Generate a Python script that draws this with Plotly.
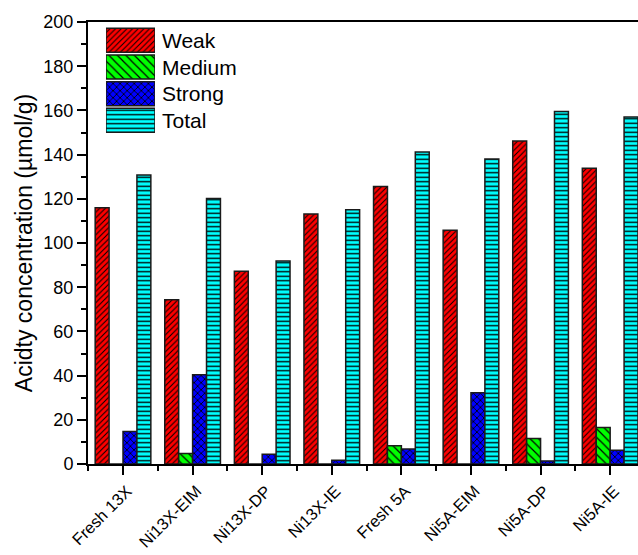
import plotly.graph_objects as go

categories = ["Fresh 13X", "Ni13X-EIM", "Ni13X-DP", "Ni13X-IE",
              "Fresh 5A", "Ni5A-EIM", "Ni5A-DP", "Ni5A-IE"]
weak = [116.0, 74.3, 87.2, 113.1, 125.6, 105.8, 146.1, 133.8]
medium = [0.0, 4.7, 0.0, 0.0, 8.3, 0.0, 11.5, 16.5]
strong = [14.7, 40.4, 4.4, 1.7, 6.8, 32.2, 1.4, 6.2]
total = [130.8, 120.1, 91.9, 115.0, 141.2, 138.0, 159.5, 157.0]

series_names = ["Weak", "Medium", "Strong", "Total"]
series_values = [weak, medium, strong, total]
colors = ["#FF0000", "#00FF00", "#0000FF", "#00FFFF"]
shapes = ["/", "\\", "x", "-"]
psizes = [4, 6, 5, 4.5]
solid = [0.25, 0.2, 0.3, 0.3]

xpos = list(range(len(categories)))

fig = go.Figure()
for name, vals, c, sh, ps, so in zip(series_names, series_values, colors, shapes, psizes, solid):
    fig.add_trace(go.Bar(
        x=xpos, y=vals, name=name, showlegend=False,
        marker=dict(color=c, line=dict(color="#1a1a1a", width=1.5),
                    pattern=dict(shape=sh, fgcolor="black", bgcolor=c,
                                 size=ps, solidity=so, fillmode="replace")),
    ))

# legend swatches drawn as bars on a small inset axis
legend_rows = [3, 2, 1, 0]
for name, row, c, sh, ps, so in zip(series_names, legend_rows, colors, shapes, psizes, solid):
    fig.add_trace(go.Bar(
        x=[1], y=[row], base=0, orientation="h", width=0.9, offset=-0.45,
        xaxis="x2", yaxis="y2", showlegend=False, hoverinfo="skip",
        marker=dict(color=c, line=dict(color="#1a1a1a", width=1.5),
                    pattern=dict(shape=sh, fgcolor="black", bgcolor=c,
                                 size=ps, solidity=so, fillmode="replace")),
    ))
    fig.add_annotation(text=name, xref="paper", yref="y2", x=0.13, y=row,
                       xanchor="left", yanchor="middle", showarrow=False,
                       font=dict(size=21, color="black"))

fig.update_layout(
    width=638, height=555,
    margin=dict(l=88, r=0, t=22, b=91),
    barmode="group", bargap=0.2, bargroupgap=0,
    plot_bgcolor="rgba(0,0,0,0)", paper_bgcolor="white",
    font=dict(family="Liberation Sans, Arial", size=18, color="black"),
    showlegend=False,
    xaxis=dict(
        range=[-0.503, 7.40], tickmode="array", tickvals=xpos, ticktext=categories,
        tickangle=-45, ticklabelstandoff=0, ticklabelshift=4,
        showline=True, linecolor="black", linewidth=2, mirror=True,
        ticks="outside", ticklen=9, tickwidth=2, tickcolor="black",
        minor=dict(tickmode="array", tickvals=[i + 0.5 for i in range(-1, 8)],
                   ticks="outside", ticklen=5, tickwidth=2, tickcolor="black"),
        showgrid=False, zeroline=False, tickfont=dict(size=16.5), automargin=False,
    ),
    yaxis=dict(
        range=[0, 200], dtick=20, tick0=0,
        showline=True, linecolor="black", linewidth=2, mirror=False,
        ticks="outside", ticklen=9, tickwidth=2, tickcolor="black",
        minor=dict(dtick=10, ticks="outside", ticklen=5, tickwidth=2, tickcolor="black"),
        showgrid=False, zeroline=False, tickfont=dict(size=18), automargin=False,
        title=dict(text="Acidty concentration (\u00b5mol/g)", font=dict(size=23), standoff=4),
    ),
    xaxis2=dict(domain=[0.0327, 0.1218], range=[0, 1], visible=False, anchor="y2",
                fixedrange=True),
    yaxis2=dict(domain=[0.7473, 0.9887], range=[-0.5, 3.5], visible=False, anchor="x2",
                fixedrange=True),
)

fig.write_html("out.html", config={"displayModeBar": False},
               post_script="document.body.style.margin='0';document.body.style.padding='0';")
